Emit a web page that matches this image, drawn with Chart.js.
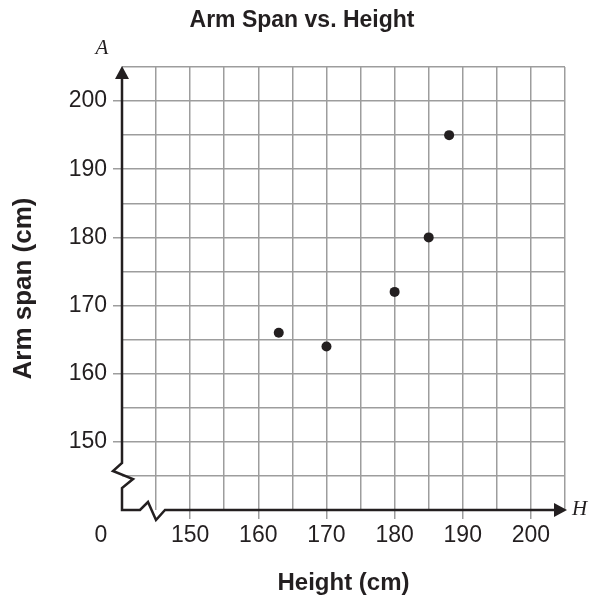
<!DOCTYPE html>
<html>
<head>
<meta charset="utf-8">
<script src="https://cdn.jsdelivr.net/npm/chart.js@4/dist/chart.umd.min.js"></script>
<style>
  html, body { margin: 0; padding: 0; background: #ffffff; }
  canvas { display: block; }
</style>
</head>
<body>
<canvas id="c" width="596" height="601"></canvas>
<script>
// ---- data ----
const heights = [163, 170, 180, 185, 188];
const armSpans = [166, 164, 172, 180, 195];
const axisMin = 140;
const axisMax = 205;
const gridStep = 5;
const labeledTicks = [150, 160, 170, 180, 190, 200];
const originLabel = '0';
const chartTitle = 'Arm Span vs. Height';
const xTitle = 'Height (cm)';
const yTitle = 'Arm span (cm)';
const xVarName = 'H';
const yVarName = 'A';

const INK = '#231f20';
const GRID = '#9d9d9d';
Chart.defaults.font.family = "'Liberation Sans', Arial, Helvetica, sans-serif";
Chart.defaults.color = INK;

const isLabeled = v => labeledTicks.includes(v);

const decor = {
  id: 'decor',
  afterDatasetsDraw(chart) {
    const ctx = chart.ctx;
    const a = chart.chartArea;
    const L = a.left, B = a.bottom, T = a.top, R = a.right;
    ctx.save();
    ctx.strokeStyle = INK;
    ctx.fillStyle = INK;
    ctx.lineWidth = 2.5;
    ctx.lineJoin = 'miter';
    ctx.lineCap = 'butt';
    // y axis with break
    ctx.beginPath();
    ctx.moveTo(L, T + 10);
    ctx.lineTo(L, B - 47);
    ctx.lineTo(L - 9, B - 39);
    ctx.lineTo(L + 11, B - 31);
    ctx.lineTo(L, B - 22);
    ctx.lineTo(L, B);
    // x axis with break
    ctx.lineTo(L + 18, B);
    ctx.lineTo(L + 26, B - 8);
    ctx.lineTo(L + 34, B + 10);
    ctx.lineTo(L + 43, B);
    ctx.lineTo(R - 10, B);
    ctx.stroke();
    // arrow heads
    ctx.beginPath();
    ctx.moveTo(L, T - 1);
    ctx.lineTo(L - 7, T + 12);
    ctx.lineTo(L + 7, T + 12);
    ctx.closePath();
    ctx.fill();
    ctx.beginPath();
    ctx.moveTo(R + 2, B);
    ctx.lineTo(R - 11, B - 7);
    ctx.lineTo(R - 11, B + 7);
    ctx.closePath();
    ctx.fill();
    // variable names
    ctx.font = "italic 21px 'Liberation Serif', 'Times New Roman', serif";
    ctx.textAlign = 'center';
    ctx.textBaseline = 'middle';
    ctx.fillText(yVarName, L - 20, T - 19);
    ctx.textAlign = 'left';
    ctx.fillText(xVarName, R + 7, B - 1);
    // origin label
    ctx.font = "23px 'Liberation Sans', Arial, sans-serif";
    ctx.textAlign = 'center';
    ctx.fillText(originLabel, L - 21, B + 26);
    ctx.restore();
  }
};

const gridColor = ctx => (ctx.tick && ctx.tick.value === axisMin) ? 'rgba(0,0,0,0)' : GRID;
const tickColor = ctx => (ctx.tick && isLabeled(ctx.tick.value)) ? GRID : 'rgba(0,0,0,0)';
const tickLabel = v => isLabeled(v) ? String(v) : '';

new Chart(document.getElementById('c'), {
  type: 'scatter',
  data: {
    datasets: [{
      data: heights.map((h, i) => ({ x: h, y: armSpans[i] })),
      backgroundColor: INK,
      borderColor: INK,
      borderWidth: 0,
      pointRadius: 5,
      pointHoverRadius: 5
    }]
  },
  options: {
    responsive: false,
    animation: false,
    devicePixelRatio: 1,
    layout: { padding: { left: 8, right: 0, top: 0, bottom: 0 } },
    plugins: {
      legend: { display: false },
      tooltip: { enabled: false },
      title: {
        display: true,
        text: chartTitle,
        color: INK,
        font: { size: 23, weight: 'bold' },
        padding: { top: 7, bottom: 32.4 }
      }
    },
    scales: {
      x: {
        type: 'linear',
        min: axisMin,
        max: axisMax,
        border: { display: false },
        grid: { color: gridColor, tickColor: tickColor, lineWidth: 1.5, tickLength: 9, drawTicks: true },
        ticks: { stepSize: gridStep, autoSkip: false, maxRotation: 0, minRotation: 0, padding: 3,
                 font: { size: 23 }, color: INK, callback: tickLabel },
        title: { display: true, text: xTitle, color: INK, font: { size: 24, weight: 'bold' },
                 padding: { top: 0, bottom: 3 } },
        afterFit(scale) {
          scale.height = 91;
          scale.paddingLeft = 0;
          scale.paddingRight = 31;
        }
      },
      y: {
        type: 'linear',
        min: axisMin,
        max: axisMax,
        border: { display: false },
        grid: { color: gridColor, tickColor: tickColor, lineWidth: 1.5, tickLength: 9, drawTicks: true },
        ticks: { stepSize: gridStep, autoSkip: false, padding: 6,
                 font: { size: 23 }, color: INK, callback: tickLabel },
        title: { display: true, text: yTitle, color: INK, font: { size: 26, weight: 'bold' },
                 padding: { top: 0, bottom: 0 } },
        afterFit(scale) {
          scale.width = 114;
          scale.paddingTop = 0;
          scale.paddingBottom = 0;
        }
      }
    }
  },
  plugins: [decor]
});
</script>
</body>
</html>
